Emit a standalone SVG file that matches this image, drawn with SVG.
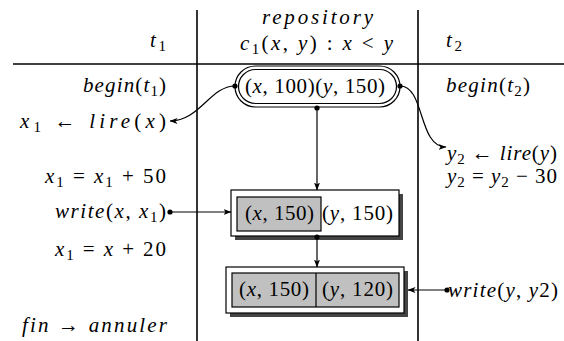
<svg xmlns="http://www.w3.org/2000/svg" width="564" height="341" viewBox="0 0 564 341">
<style>
.ln{stroke:#000;stroke-width:1.6;fill:none}
.c{stroke:#000;stroke-width:1.2;fill:none}
.dot{fill:#000}
.box{fill:#fff;stroke:#000;stroke-width:1.2}
.cell{fill:#c0c0c0;stroke:#000;stroke-width:1.2}
.sh{fill:#444}
</style>
<defs>
<marker id="ah" viewBox="0 0 8 6" refX="7.5" refY="3" markerWidth="8" markerHeight="6" markerUnits="userSpaceOnUse" orient="auto">
<path d="M0,0 L8,3 L0,6 L2,3 z" fill="#000"/>
</marker>
</defs>
<rect width="564" height="341" fill="#fff"/>
<g id="grid">
<line class="ln" x1="13" y1="64" x2="564" y2="64"/>
<line class="ln" x1="197" y1="10" x2="197" y2="341"/>
<line class="ln" x1="418" y1="10" x2="418" y2="341"/>
</g>
<g id="headers">
<text x="150" y="47" font-family="Liberation Serif" font-size="21" textLength="16"><tspan font-style="italic">t</tspan><tspan font-size="15" dy="4">1</tspan></text>
<text x="262" y="24" font-family="Liberation Serif" font-size="21" font-style="italic" textLength="111">repository</text>
<text x="240" y="50" font-family="Liberation Serif" font-size="21" textLength="153"><tspan font-style="italic">c</tspan><tspan font-size="15" dy="4">1</tspan><tspan dy="-4">(</tspan><tspan font-style="italic">x</tspan>, <tspan font-style="italic">y</tspan>) : <tspan font-style="italic">x</tspan> &lt; <tspan font-style="italic">y</tspan></text>
<text x="446" y="47" font-family="Liberation Serif" font-size="21" textLength="16"><tspan font-style="italic">t</tspan><tspan font-size="15" dy="4">2</tspan></text>
</g>
<g id="t1-ops">
<text x="83" y="92" font-family="Liberation Serif" font-size="21" textLength="83"><tspan font-style="italic">begin</tspan>(<tspan font-style="italic">t</tspan><tspan font-size="15" dy="4">1</tspan><tspan dy="-4">)</tspan></text>
<text x="20" y="128" font-family="Liberation Serif" font-size="21" textLength="146"><tspan font-style="italic">x</tspan><tspan font-size="15" dy="4">1</tspan><tspan dy="-4"> ← </tspan><tspan font-style="italic">lire</tspan>(<tspan font-style="italic">x</tspan>)</text>
<text x="45" y="183" font-family="Liberation Serif" font-size="21" textLength="121"><tspan font-style="italic">x</tspan><tspan font-size="15" dy="4">1</tspan><tspan dy="-4"> = </tspan><tspan font-style="italic">x</tspan><tspan font-size="15" dy="4">1</tspan><tspan dy="-4"> + 50</tspan></text>
<text x="55" y="218" font-family="Liberation Serif" font-size="21" textLength="111"><tspan font-style="italic">write</tspan>(<tspan font-style="italic">x</tspan>, <tspan font-style="italic">x</tspan><tspan font-size="15" dy="4">1</tspan><tspan dy="-4">)</tspan></text>
<text x="55" y="256" font-family="Liberation Serif" font-size="21" textLength="111"><tspan font-style="italic">x</tspan><tspan font-size="15" dy="4">1</tspan><tspan dy="-4"> = </tspan><tspan font-style="italic">x</tspan> + 20</text>
<text x="22" y="332" font-family="Liberation Serif" font-size="21" textLength="145"><tspan font-style="italic">fin</tspan> → <tspan font-style="italic">annuler</tspan></text>
</g>
<g id="t2-ops">
<text x="446" y="92" font-family="Liberation Serif" font-size="21" textLength="84"><tspan font-style="italic">begin</tspan>(<tspan font-style="italic">t</tspan><tspan font-size="15" dy="4">2</tspan><tspan dy="-4">)</tspan></text>
<text x="447" y="160" font-family="Liberation Serif" font-size="21" textLength="110"><tspan font-style="italic">y</tspan><tspan font-size="15" dy="4">2</tspan><tspan dy="-4"> ← </tspan><tspan font-style="italic">lire</tspan>(<tspan font-style="italic">y</tspan>)</text>
<text x="447" y="183" font-family="Liberation Serif" font-size="21" textLength="110"><tspan font-style="italic">y</tspan><tspan font-size="15" dy="4">2</tspan><tspan dy="-4"> = </tspan><tspan font-style="italic">y</tspan><tspan font-size="15" dy="4">2</tspan><tspan dy="-4"> − 30</tspan></text>
<text x="448" y="297" font-family="Liberation Serif" font-size="21" textLength="110"><tspan font-style="italic">write</tspan>(<tspan font-style="italic">y</tspan>, <tspan font-style="italic">y</tspan>2)</text>
</g>
<g id="state0">
<rect class="box" x="235" y="66" width="165" height="41" rx="20.5"/>
<rect x="238.5" y="69.5" width="158" height="34" rx="17" fill="none" stroke="#000" stroke-width="1.2"/>
<text x="245" y="93" font-family="Liberation Serif" font-size="21" textLength="140">(<tspan font-style="italic">x</tspan>, 100)(<tspan font-style="italic">y</tspan>, 150)</text>
</g>
<g id="state1">
<rect class="sh" x="235" y="194" width="168" height="46"/>
<rect class="box" x="231" y="190" width="168" height="46"/>
<rect class="cell" x="237" y="197" width="84" height="34"/>
<text x="245" y="220" font-family="Liberation Serif" font-size="21" textLength="69">(<tspan font-style="italic">x</tspan>, 150)</text>
<text x="322" y="220" font-family="Liberation Serif" font-size="21" textLength="71">(<tspan font-style="italic">y</tspan>, 150)</text>
</g>
<g id="state2">
<rect class="sh" x="230" y="271" width="178" height="46"/>
<rect class="box" x="226" y="267" width="178" height="46"/>
<rect class="cell" x="232" y="273" width="167" height="34"/>
<line x1="316" y1="273" x2="316" y2="307" stroke="#000" stroke-width="1.2"/>
<text x="239" y="296" font-family="Liberation Serif" font-size="21" textLength="70">(<tspan font-style="italic">x</tspan>, 150)</text>
<text x="322" y="296" font-family="Liberation Serif" font-size="21" textLength="71">(<tspan font-style="italic">y</tspan>, 120)</text>
</g>
<g id="connectors">
<path class="c" d="M235,86 C210,86 200,121 170,121" marker-end="url(#ah)"/>
<path class="c" d="M400,86 C425,86 418,147 446,147" marker-end="url(#ah)"/>
<path class="c" d="M317,108 L317,190" marker-end="url(#ah)"/>
<path class="c" d="M170,212 L231,212" marker-end="url(#ah)"/>
<path class="c" d="M317,237 L317,267" marker-end="url(#ah)"/>
<path class="c" d="M447,290 L408,290" marker-end="url(#ah)"/>
<circle class="dot" cx="235" cy="86" r="2.6"/>
<circle class="dot" cx="400" cy="86" r="2.6"/>
<circle class="dot" cx="317" cy="108" r="2.6"/>
<circle class="dot" cx="170" cy="212" r="2.6"/>
<circle class="dot" cx="317" cy="237" r="2.6"/>
<circle class="dot" cx="447" cy="290" r="2.6"/>
</g>
</svg>
